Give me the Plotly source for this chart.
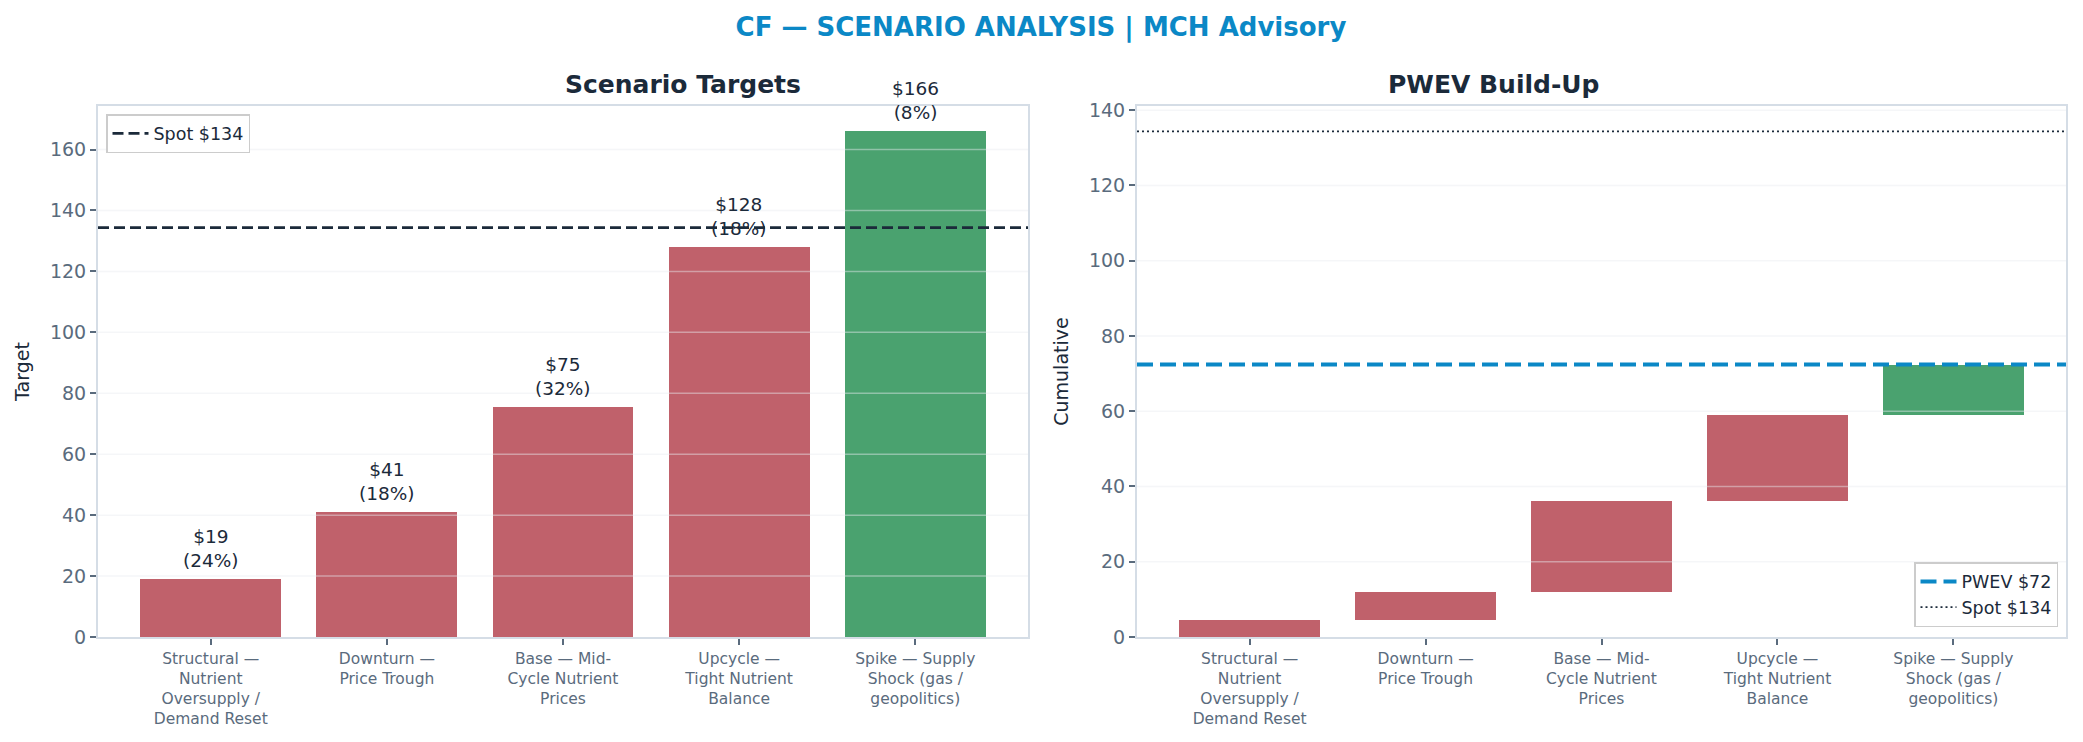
import textwrap
import plotly.graph_objects as go

scenarios = [
    "Structural — Nutrient Oversupply / Demand Reset",
    "Downturn — Price Trough",
    "Base — Mid-Cycle Nutrient Prices",
    "Upcycle — Tight Nutrient Balance",
    "Spike — Supply Shock (gas / geopolitics)",
]
targets = [19, 41, 75.4, 128, 166]
probs = [0.24, 0.18, 0.32, 0.18, 0.08]
spot = 134.4

RED = "#c0616b"
GREEN = "#4aa26f"
BLUE = "#0b88c6"
DARK = "#1b2a3a"
GREY = "#5a6b7d"
SPINE = "#d5dde6"
FONT = "DejaVu Sans"

idx = list(range(len(scenarios)))
labels = ["<br>".join(textwrap.wrap(s, 14)) for s in scenarios]
colors = [GREEN if t > spot else RED for t in targets]

# waterfall pieces
contrib = [t * p for t, p in zip(targets, probs)]
bases, cum = [], 0
for c in contrib:
    bases.append(cum)
    cum += c
pwev = cum

# matplotlib-like x limits
lo, hi = -0.4, len(idx) - 1 + 0.4
pad = 0.05 * (hi - lo)
xr = [lo - pad, hi + pad]
y1max = max(targets) * 1.05
y2max = max(spot, pwev) * 1.05

# page body has an 8px margin, so the figure is drawn a bit smaller
OFF = 8
W, H = 2083 - OFF, 742 - OFF
ml, mt = 98 - OFF, 106 - OFF
mr, mb = W - (2066 - OFF), H - (637 - OFF)
pw = W - ml - mr
ph = H - mt - mb


def px(x):
    return (x - OFF - ml) / pw


def py(y):
    return (H - mb - (y - OFF)) / ph


dom1 = [0, px(1028)]
dom2 = [px(1137), 1]

fig = go.Figure()
fig.add_trace(go.Bar(x=idx, y=targets, width=0.8, marker=dict(color=colors, line_width=0),
                     xaxis="x", yaxis="y", showlegend=False, hoverinfo="skip"))
fig.add_trace(go.Bar(x=idx, y=contrib, base=bases, width=0.8, marker=dict(color=colors, line_width=0),
                     xaxis="x2", yaxis="y2", showlegend=False, hoverinfo="skip"))

# legend entries
fig.add_trace(go.Scatter(x=[None], y=[None], mode="lines", name=f"Spot ${spot:.0f}",
                         line=dict(color=DARK, width=2.7, dash="11px,5px"), legend="legend"))
fig.add_trace(go.Scatter(x=[None], y=[None], mode="lines", name=f"PWEV ${pwev:.0f}",
                         line=dict(color=BLUE, width=4, dash="16px,7px"), legend="legend2",
                         xaxis="x2", yaxis="y2"))
fig.add_trace(go.Scatter(x=[None], y=[None], mode="lines", name=f"Spot ${spot:.0f}",
                         line=dict(color=DARK, width=1.8, dash="2px,3px"), legend="legend2",
                         xaxis="x2", yaxis="y2"))

shapes = []
# grid drawn over the bars, like the original
for ax, ymax in (("", y1max), ("2", y2max)):
    v = 20
    while v < ymax:
        shapes.append(dict(type="line", xref=f"x{ax} domain", yref=f"y{ax}", x0=0, x1=1, y0=v, y1=v,
                           line=dict(color="rgba(232,235,240,0.45)", width=1.5), layer="above"))
        v += 20

shapes.append(dict(type="line", xref="x domain", yref="y", x0=0, x1=1, y0=spot, y1=spot,
                   line=dict(color=DARK, width=2.7, dash="11px,5px"), layer="above"))
shapes.append(dict(type="line", xref="x2 domain", yref="y2", x0=0, x1=1, y0=spot, y1=spot,
                   line=dict(color=DARK, width=1.8, dash="2px,3px"), layer="above"))
shapes.append(dict(type="line", xref="x2 domain", yref="y2", x0=0, x1=1, y0=pwev, y1=pwev,
                   line=dict(color=BLUE, width=4, dash="16px,7px"), layer="above"))

annotations = []
for i, t, p in zip(idx, targets, probs):
    annotations.append(dict(x=i, y=t, xref="x", yref="y", text=f"${t:.0f}<br>({p:.0%})",
                            showarrow=False, yanchor="bottom", yshift=6,
                            font=dict(family=FONT, size=18.5, color=DARK)))
for dom, txt in ((dom1, "Scenario Targets"), (dom2, "PWEV Build-Up")):
    annotations.append(dict(x=(dom[0] + dom[1]) / 2, y=py(84), xref="paper",
                            yref="paper", text=f"<b>{txt}</b>", showarrow=False, yanchor="middle",
                            font=dict(family=FONT, size=25, color=DARK)))

xcommon = dict(range=xr, tickvals=idx, ticktext=labels, ticks="outside", ticklen=6, tickwidth=1.5,
               tickcolor=GREY, showgrid=False, zeroline=False, showline=True, linecolor=SPINE,
               linewidth=2, mirror=True, tickfont=dict(family=FONT, size=15.5, color=GREY))
ycommon = dict(ticks="outside", ticklen=6, tickwidth=1.5, tickcolor=GREY, showgrid=False,
               zeroline=False, showline=True, linecolor=SPINE, linewidth=2, mirror=True,
               dtick=20, tickfont=dict(family=FONT, size=19, color=GREY))

legend_common = dict(bgcolor="white", bordercolor="#cccccc", borderwidth=1.5,
                     font=dict(family=FONT, size=17.5, color=DARK), itemwidth=36)

fig.update_layout(
    width=W, height=H,
    margin=dict(l=ml, r=mr, t=mt, b=mb),
    paper_bgcolor="white", plot_bgcolor="white",
    title=dict(text="<b>CF — SCENARIO ANALYSIS | MCH Advisory</b>", x=(1041 - OFF) / W,
               xanchor="center", y=1 - (27 - OFF) / H, yanchor="middle",
               font=dict(family=FONT, size=26, color=BLUE)),
    xaxis=dict(domain=dom1, anchor="y", **xcommon),
    yaxis=dict(range=[0, y1max], anchor="x",
               title=dict(text="Target", standoff=15, font=dict(family=FONT, size=19, color=DARK)),
               **ycommon),
    xaxis2=dict(domain=dom2, anchor="y2", **xcommon),
    yaxis2=dict(range=[0, y2max], anchor="x2",
                title=dict(text="Cumulative", standoff=15, font=dict(family=FONT, size=19, color=DARK)),
                **ycommon),
    legend=dict(x=px(106), y=py(114), xanchor="left", yanchor="top", **legend_common),
    legend2=dict(x=px(2058), y=py(627), xanchor="right", yanchor="bottom", **legend_common),
    shapes=shapes,
    annotations=annotations,
    bargap=0,
)

fig.write_html("out.html")
